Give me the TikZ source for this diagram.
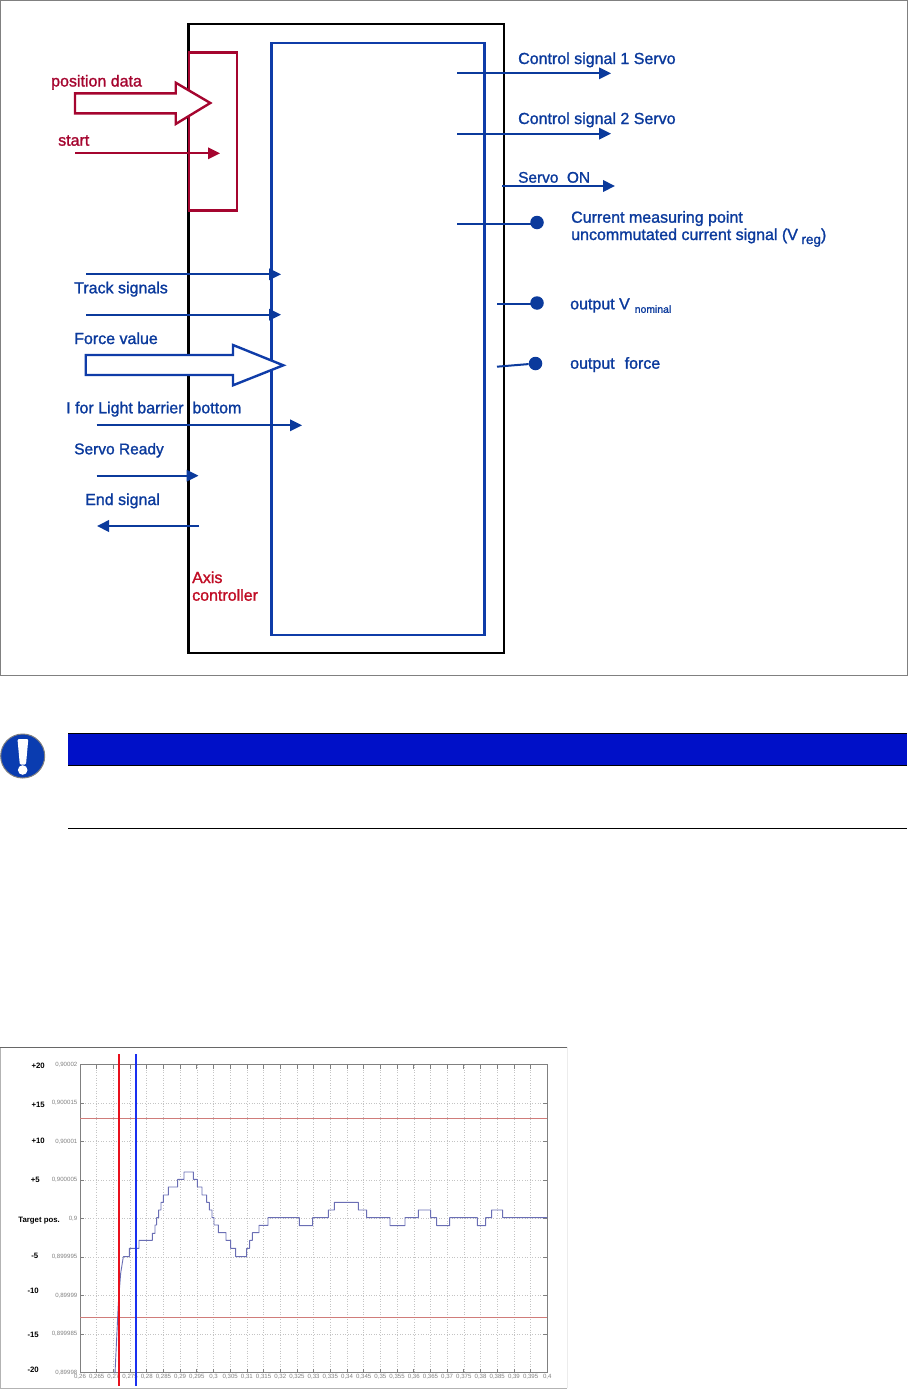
\documentclass[tikz,border=0pt]{standalone}
\usepackage{fontspec}
\setmainfont{Liberation Sans}[FakeBold=1.4]
\newfontfamily\plainf{Liberation Sans}
\usetikzlibrary{arrows.meta}
\definecolor{sigblue}{HTML}{0B3A9C}
\definecolor{boxblue}{HTML}{0F3CA8}
\definecolor{darkred}{HTML}{A5052F}
\definecolor{brightred}{HTML}{C00D25}
\definecolor{barblue}{HTML}{0010C8}
\definecolor{iconblue}{HTML}{0A3CB0}
\definecolor{tracec}{HTML}{6A6EB4}
\definecolor{limitc}{HTML}{D07C7A}
\definecolor{gridc}{HTML}{C4C4C4}
\definecolor{tickc}{HTML}{808080}
\definecolor{cursred}{HTML}{E8101C}
\definecolor{cursblue}{HTML}{1A30F0}
\tikzset{
  lab/.style={anchor=base west,inner sep=0pt,text=sigblue,font=\fontsize{16}{16}\selectfont},
  redlab/.style={lab,text=darkred},
  axlab/.style={lab,text=brightred},
  sig/.style={draw=sigblue,line width=2pt,-{Triangle[length=12pt,width=11.5pt]}},
  redsig/.style={sig,draw=darkred},
  stub/.style={draw=sigblue,line width=2pt},
  dotn/.style={circle,fill=sigblue,draw=none,minimum size=13.5pt,inner sep=0pt},
  blackbox/.style={draw=black,line width=2.6pt},
  bluebox/.style={draw=boxblue,line width=2.6pt},
  redbox/.style={draw=darkred,line width=2.6pt},
  fatred/.style={draw=darkred,line width=2.4pt,fill=white,line join=miter},
  fatblue/.style={draw=boxblue,line width=2.4pt,fill=white,line join=miter},
  ylab/.style={anchor=east,inner sep=0pt,text=gray,font=\plainf\fontsize{6.1}{6}\selectfont},
  xlab/.style={anchor=base,inner sep=0pt,text=gray,font=\plainf\fontsize{6.1}{6}\selectfont},
  blab/.style={anchor=base east,inner sep=0pt,text=black,font=\plainf\bfseries\fontsize{7.8}{8}\selectfont},
  gridl/.style={draw=gridc,line width=0.6pt,dotted},
  tickl/.style={draw=tickc,line width=0.8pt},
}
\begin{document}
\begin{tikzpicture}[x=1pt,y=-1pt]
\useasboundingbox (0,0) rectangle (908,1389);
% top panel frame
\draw[draw=gray,line width=0.8pt] (0.5,0.5) rectangle (907.5,675.5);
% boxes
\draw[blackbox] (188.7,24) rectangle (504,653);
\draw[bluebox] (271.5,43) rectangle (484.3,635);
\draw[redbox] (189,52.7) rectangle (236.8,210.7);
% connector ends
\coordinate (c1a) at (457,73.3);   \coordinate (c1b) at (611,73.3);
\coordinate (c2a) at (457,133.7);  \coordinate (c2b) at (611,133.7);
\coordinate (sva) at (502,186);    \coordinate (svb) at (615,186);
\coordinate (cma) at (457,224.3);
\coordinate (vna) at (497,304.3);
\coordinate (fra) at (497,366.7);  \coordinate (frb) at (515,365.2);
\coordinate (t1a) at (86,274.3);   \coordinate (t1b) at (281,274.3);
\coordinate (t2a) at (86,314.7);   \coordinate (t2b) at (281,314.7);
\coordinate (lba) at (96.7,425.3); \coordinate (lbb) at (302,425.3);
\coordinate (sra) at (96.7,475.7); \coordinate (srb) at (198.5,475.7);
\coordinate (esa) at (199,526);    \coordinate (esb) at (97,526);
\coordinate (sta) at (75.3,153.3); \coordinate (stb) at (220,153.3);
% dots
\node[dotn] (dcm) at (537,222.5) {};
\node[dotn] (dvn) at (537,303) {};
\node[dotn] (dfr) at (535.5,363.5) {};
% connectors
\draw[sig] (c1a) -- (c1b);
\draw[sig] (c2a) -- (c2b);
\draw[sig] (sva) -- (svb);
\draw[stub] (cma) -- (cma -| dcm);
\draw[stub] (vna) -- (vna -| dvn);
\draw[stub] (fra) -- (frb) -- (dfr);
\draw[sig] (t1a) -- (t1b);
\draw[sig] (t2a) -- (t2b);
\draw[sig] (lba) -- (lbb);
\draw[sig] (sra) -- (srb);
\draw[sig] (esa) -- (esb);
\draw[redsig] (sta) -- (stb);
% fat arrows
\draw[fatred] (75,93.3) -- (175.7,93.3) -- (175.7,82.7) -- (210.3,103) -- (175.7,124) -- (175.7,113.3) -- (75,113.3) -- cycle;
\draw[fatblue] (85.7,355) -- (233,355) -- (233,345) -- (283.3,365.3) -- (233,385.3) -- (233,375) -- (85.7,375) -- cycle;
% labels
\node[redlab] (lpos) at (51,86.5) {position data};
\node[redlab] (lst) at (58,145.7) {start};
\node[lab] (ltr) at (74,293.3) {Track signals};
\node[lab] (lfv) at (74,344) {Force value};
\node[lab] (llb) at (66,413.3) {I for Light barrier\ \ bottom};
\node[lab] (lsr) at (74,454.3) {\fontsize{15.5}{16}\selectfont Servo Ready};
\node[lab] (les) at (85,505) {End signal};
\node[axlab] (lax1) at (192,583) {Axis};
\node[axlab] (lax2) at (192,600.7) {controller};
\node[lab] (lc1) at (518,64) {Control signal 1 Servo};
\node[lab] (lc2) at (518,124) {Control signal 2 Servo};
\node[lab] (lso) at (518,182.7) {\fontsize{15.4}{16}\selectfont Servo\ \ ON};
\node[lab] (lcm) at (571,222.7) {Current measuring point};
\node[lab] (lun) at (571,240) {uncommutated current signal (V\hspace{3.5pt}\raisebox{-4pt}{\fontsize{13.5}{14}\selectfont reg})};
\node[lab] (lvn) at (570,309.3) {output V\hspace{5pt}\raisebox{-3.5pt}{\fontsize{10.4}{11}\selectfont nominal}};
\node[lab] (lof) at (570,368.7) {output\hspace{10pt}force};
% warning
\fill[barblue] (68,733) rectangle (907,765.5);
\draw[black,line width=1pt] (68,733) -- (907,733);
\draw[black,line width=1pt] (68,765.5) -- (907,765.5);
\draw[black,line width=1pt] (68,828) -- (907,828);
\filldraw[fill=iconblue,draw=gray,line width=1pt] (22.7,756) circle (22);
\fill[white,rounded corners=1.2pt] (17.5,739) -- (28.3,739) -- (26,764.5) -- (19.8,764.5) -- cycle;
\fill[white] (22.7,770) circle (4.8);
% plot frame
\draw[draw=tickc!60,line width=0.6pt] (0.5,1047) -- (0.5,1388) -- (567,1388);
\draw[draw=gray!15,line width=0.6pt] (567,1047) -- (567,1388);
\draw[draw=tickc!120,line width=1pt] (0,1047) -- (567,1047);
% grid, ticks, tick labels
\foreach \l [count=\i from 0] in {26,265,27,275,28,285,29,295,3,305,31,315,32,325,33,335,34,345,35,355,36,365,37,375,38,385,39,395,4}{
  \draw[gridl] ({80+\i*16.69},1064.5) -- ({80+\i*16.69},1372.5);
  \draw[tickl] ({80+\i*16.69},1064.5) -- ++(0,4);
  \draw[tickl] ({80+\i*16.69},1372.5) -- ++(0,-4);
  \node[xlab] (xl\i) at ({80+\i*16.69},1378) {0,\l};
}
\foreach \l [count=\i from 0] in {90002,900015,90001,900005,9,899995,89999,899985,89998}{
  \draw[gridl] (80,{1064.5+\i*38.5}) -- (547.3,{1064.5+\i*38.5});
  \draw[tickl] (80,{1064.5+\i*38.5}) -- ++(4,0);
  \draw[tickl] (547.3,{1064.5+\i*38.5}) -- ++(-4,0);
  \node[ylab] (yl\i) at (77.5,{1064.5+\i*38.5}) {0,\l};
}
\draw[draw=tickc,line width=0.9pt] (80,1064.5) rectangle (547.3,1372.5);
% limits
\fill[limitc] (80,1117.8) rectangle (547.3,1118.8);
\fill[limitc] (80,1317.2) rectangle (547.3,1318.2);
% trace
\begin{scope}[shift={(0,1040)},x=0.33333pt,y=-0.33333pt]
\draw[tracec,line width=0.9pt,line join=round] (345,1000) -- (355,790) -- (362,700) -- (370,650) -- (388,650) -- (388,625) -- (417,625) -- (417,601) -- (457,601) -- (457,580) -- (465,580) -- (465,555) -- (470,555) -- (470,533) -- (476,533) -- (476,510) -- (483,510) -- (483,487) -- (490,487) -- (490,465) -- (505,465) -- (505,441) -- (533,441) -- (533,418) -- (552,418) -- (552,396) -- (580,396) -- (580,418) -- (592,418) -- (592,441) -- (606,441) -- (606,465) -- (620,465) -- (620,487) -- (628,487) -- (628,510) -- (636,510) -- (636,533) -- (642,533) -- (642,555) -- (655,555) -- (655,578) -- (678,578) -- (678,601) -- (692,601) -- (692,625) -- (707,625) -- (707,650) -- (740,650) -- (740,625) -- (749,625) -- (749,601) -- (757,601) -- (757,578) -- (777,578) -- (777,556) -- (804,556) -- (804,533) -- (898,533) -- (898,557) -- (938,557) -- (938,533) -- (985,533) -- (985,510) -- (1003,510) -- (1003,487) -- (1075,487) -- (1075,510) -- (1100,510) -- (1100,533) -- (1170,533) -- (1170,557) -- (1215,557) -- (1215,533) -- (1255,533) -- (1255,510) -- (1292,510) -- (1292,533) -- (1310,533) -- (1310,557) -- (1349,557) -- (1349,533) -- (1432,533) -- (1432,557) -- (1457,557) -- (1457,533) -- (1475,533) -- (1475,510) -- (1508,510) -- (1508,533) -- (1642,533);
\end{scope}
% cursors
\fill[cursred] (117.7,1054) rectangle (119.7,1385.7);
\fill[cursblue] (134.7,1054) rectangle (136.7,1385.7);
% y side labels
\node[blab] (b20) at (45,1068) {+20};
\node[blab] (b15) at (45,1107) {+15};
\node[blab] (b10) at (45,1143) {+10};
\node[blab] (b5) at (40,1182) {+5};
\node[blab] (btp) at (60,1222.7) {Target pos.};
\node[blab] (bm5) at (38.5,1258) {-5};
\node[blab] (bm10) at (39,1293) {-10};
\node[blab] (bm15) at (39,1337) {-15};
\node[blab] (bm20) at (39,1372) {-20};
\end{tikzpicture}
\end{document}
